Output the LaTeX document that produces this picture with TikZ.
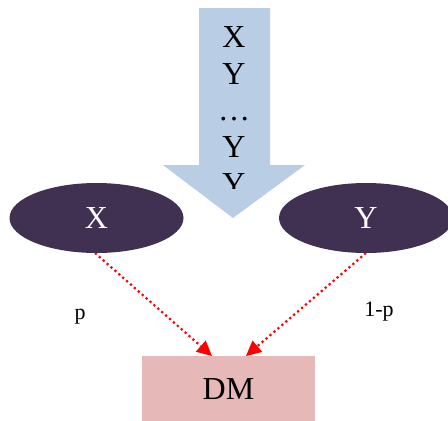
\documentclass[tikz,border=0pt]{standalone}
\usepackage{fontspec}
\setmainfont{Liberation Serif}
\usetikzlibrary{arrows.meta,shapes.geometric}
\definecolor{arrowblue}{HTML}{B9CDE5}
\definecolor{ellpurple}{HTML}{403152}
\definecolor{dmpink}{HTML}{E6B9B8}
\begin{document}
\begin{tikzpicture}[x=1pt,y=-1pt,
  big/.style={font=\fontsize{32}{37}\selectfont},
  ell/.style={ellipse,fill=ellpurple,minimum width=174pt,minimum height=70pt,inner sep=0pt,text=white,big},
  dmbox/.style={rectangle,fill=dmpink,minimum width=173pt,minimum height=66pt,inner sep=0pt,big},
  link/.style={red,line width=2.2pt,dash pattern=on 2.2pt off 3pt,-{Triangle[length=15pt,width=15pt,line width=0pt]}},
  lbl/.style={font=\fontsize{22}{24}\selectfont,inner sep=0pt},
  arrtxt/.style={big,anchor=base,inner sep=0pt}]
\useasboundingbox (0,0) rectangle (448,421);
\clip (0,0) rectangle (448,421);
% big arrow
\fill[arrowblue] (199,8) -- (270,8) -- (270,165) -- (305,165) -- (233,218) -- (163,165) -- (199,165) -- cycle;
\begin{scope}
\clip (199,8) rectangle (270,188);
\node[arrtxt] (t1) at (234,47) {X};
\node[arrtxt] (t2) at (234,84) {Y};
\node[arrtxt] (t3) at (234,120) {\dots};
\node[arrtxt] (t4) at (234,157) {Y};
\node[arrtxt] (t5) at (234,194) {Y};
\end{scope}
\node[ell] (X) at (96.5,218) {X};
\node[ell] (Y) at (366,218) {Y};
\node[dmbox] (DM) at (228.5,389) {DM};
\coordinate (xs) at (95,253);
\coordinate (ys) at (366,253);
\coordinate (de1) at (212,356);
\coordinate (de2) at (246,356);
\draw[link] (xs) -- (de1);
\draw[link] (ys) -- (de2);
\node[lbl,anchor=base] (p) at (80,319) {p};
\node[lbl,anchor=base] (q) at (379,316) {1-p};
\end{tikzpicture}
\end{document}
